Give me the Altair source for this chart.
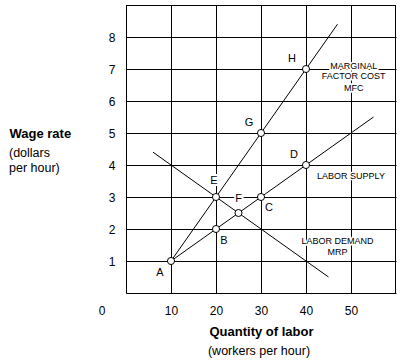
import altair as alt
import pandas as pd

# ---- data ----
mfc_x = [10, 20, 30, 40, 47]
mfc_y = [1, 3, 5, 7, 8.4]
supply_x = [10, 20, 30, 40, 55]
supply_y = [1, 2, 3, 4, 5.5]
demand_x = [6, 10, 20, 30, 40, 45]
demand_y = [4.4, 4, 3, 2, 1, 0.5]

pt_labels = ["A", "B", "C", "D", "E", "F", "G", "H"]
pt_x = [10, 20, 30, 40, 20, 25, 30, 40]
pt_y = [1, 2, 3, 4, 3, 2.5, 5, 7]
pt_dx = [-11, 8, 8, -12, -2, 0, -12, -14]
pt_dy = [12, 12, 11, -10, -16, -14, -10, -10]

curve_text = ["MARGINAL", "FACTOR COST", "MFC", "LABOR SUPPLY", "LABOR DEMAND", "MRP"]
curve_x = [50.6, 50.6, 50.6, 50.0, 47.0, 47.0]
curve_y = [7.09, 6.77, 6.42, 3.66, 1.63, 1.29]

x_ticks = [10, 20, 30, 40, 50]
y_ticks = [1, 2, 3, 4, 5, 6, 7, 8]

FONT = "Liberation Sans"

lines_df = pd.concat([
    pd.DataFrame({"x": mfc_x, "y": mfc_y, "s": "MFC", "o": range(len(mfc_x))}),
    pd.DataFrame({"x": supply_x, "y": supply_y, "s": "Supply", "o": range(len(supply_x))}),
    pd.DataFrame({"x": demand_x, "y": demand_y, "s": "Demand", "o": range(len(demand_x))}),
])
pts_df = pd.DataFrame({"lab": pt_labels, "x": pt_x, "y": pt_y, "dx": pt_dx, "dy": pt_dy})
curve_df = pd.DataFrame({"t": curve_text, "x": curve_x, "y": curve_y})
zero_df = pd.DataFrame({"t": ["0"], "x": [0], "y": [0]})
top_df = pd.DataFrame({"y": [9]})
right_df = pd.DataFrame({"x": [60]})

xs = alt.Scale(domain=[0, 60], nice=False, zero=False)
ys = alt.Scale(domain=[0, 9], nice=False, zero=False)

X = alt.X("x:Q", scale=xs, axis=alt.Axis(
    values=x_ticks, grid=True, gridColor="black", gridOpacity=1, ticks=False,
    domain=True, domainColor="black", domainOpacity=1,
    labelFont=FONT, labelFontSize=12, labelColor="black", labelPadding=12,
    title="Quantity of labor", titleFont=FONT, titleFontSize=13, titleFontWeight="bold",
    titleColor="black", titleY=42, titleBaseline="alphabetic"))
Y = alt.Y("y:Q", scale=ys, axis=alt.Axis(
    values=y_ticks, grid=True, gridColor="black", gridOpacity=1, ticks=False,
    domain=True, domainColor="black", domainOpacity=1,
    labelFont=FONT, labelFontSize=12, labelColor="black", labelPadding=11,
    title="Wage rate", titleFont=FONT, titleFontSize=13, titleFontWeight="bold",
    titleColor="black", titleAngle=0, titleAlign="left", titleBaseline="alphabetic",
    titleX=-117, titleY=132))

lines = alt.Chart(lines_df).mark_line(color="black", strokeWidth=1).encode(
    x=X, y=Y, detail="s:N", order="o:Q")

top_border = alt.Chart(top_df).mark_rule(color="black", strokeWidth=1, yOffset=0.5).encode(
    y=alt.Y("y:Q", scale=ys))
right_border = alt.Chart(right_df).mark_rule(color="black", strokeWidth=1, xOffset=-0.5).encode(
    x=alt.X("x:Q", scale=xs))

points = alt.Chart(pts_df).mark_point(
    shape="circle", filled=True, fill="white", stroke="black", strokeWidth=1, size=50, opacity=1
).encode(x=alt.X("x:Q", scale=xs), y=alt.Y("y:Q", scale=ys))

pt_layers = []
for i, lab in enumerate(pt_labels):
    sub = pts_df.iloc[[i]]
    for halo in (True, False):
        kw = dict(font=FONT, fontSize=11, color="black", dx=pt_dx[i], dy=pt_dy[i],
                  align="center", baseline="middle")
        if halo:
            kw.update(stroke="white", strokeWidth=4, color="white")
        pt_layers.append(alt.Chart(sub).mark_text(**kw).encode(
            x=alt.X("x:Q", scale=xs), y=alt.Y("y:Q", scale=ys), text="lab:N"))

curve_halo = alt.Chart(curve_df).mark_text(
    font=FONT, fontSize=9, color="white", stroke="white", strokeWidth=3,
    align="center", baseline="middle").encode(
    x=alt.X("x:Q", scale=xs), y=alt.Y("y:Q", scale=ys), text="t:N")
curve_lab = alt.Chart(curve_df).mark_text(
    font=FONT, fontSize=9, color="black", align="center", baseline="middle").encode(
    x=alt.X("x:Q", scale=xs), y=alt.Y("y:Q", scale=ys), text="t:N")

zero = alt.Chart(zero_df).mark_text(
    font=FONT, fontSize=12, color="black", dx=-24, dy=18, align="center", baseline="middle"
).encode(x=alt.X("x:Q", scale=xs), y=alt.Y("y:Q", scale=ys), text="t:N")

sub_df = pd.DataFrame({"t": ["(dollars", "per hour)", "(workers per hour)"]})
y_sub1 = alt.Chart(sub_df.iloc[[0]]).mark_text(
    font=FONT, fontSize=12.5, color="black", align="left", baseline="middle").encode(
    x=alt.value(-117), y=alt.value(148), text="t:N")
y_sub2 = alt.Chart(sub_df.iloc[[1]]).mark_text(
    font=FONT, fontSize=12.5, color="black", align="left", baseline="middle").encode(
    x=alt.value(-117), y=alt.value(163), text="t:N")
x_sub = alt.Chart(sub_df.iloc[[2]]).mark_text(
    font=FONT, fontSize=12.5, color="black", align="center", baseline="middle").encode(
    x=alt.value(133), y=alt.value(346), text="t:N")

chart = alt.layer(lines, top_border, right_border, points, *pt_layers, curve_halo, curve_lab,
                  zero, y_sub1, y_sub2, x_sub).properties(
    width=270, height=288,
    padding={"left": 126, "top": 5, "right": 4, "bottom": 70},
    autosize=alt.AutoSizeParams(type="none"),
    background="white",
).configure_view(strokeWidth=0)

chart.save("out.html", embed_options={"renderer": "svg", "actions": False})
